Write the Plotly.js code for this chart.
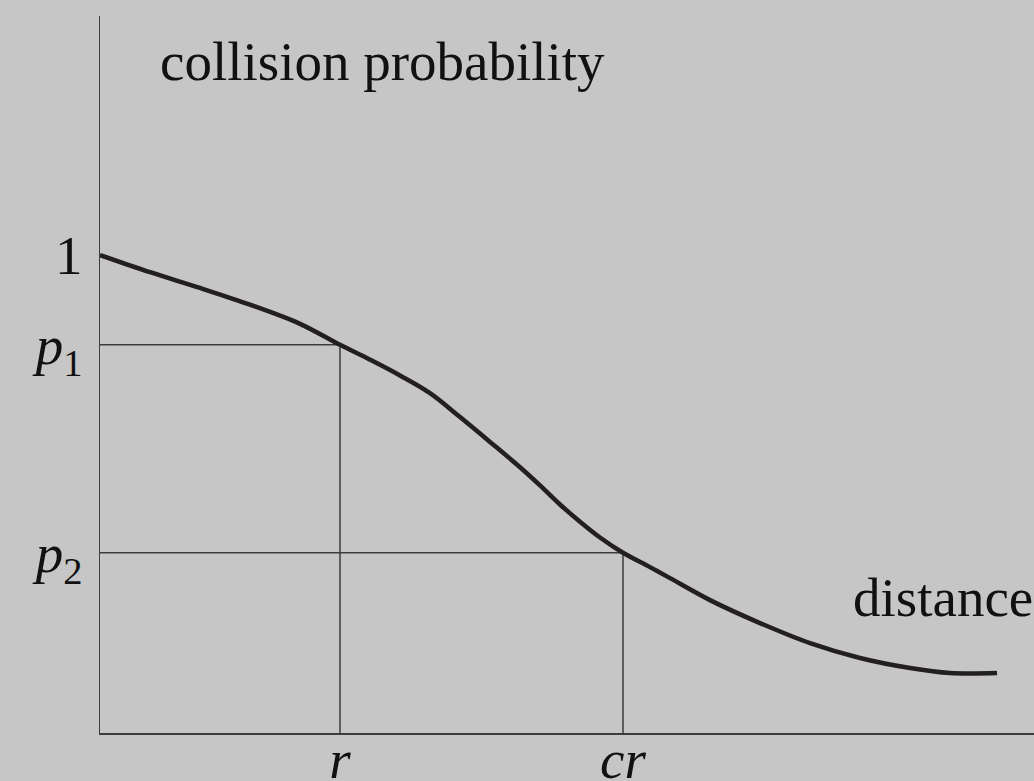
<!DOCTYPE html>
<html>
<head>
<meta charset="utf-8">
<script src="https://cdn.plot.ly/plotly-3.0.1.min.js"></script>
<style>html,body{margin:0;padding:0;background:#c5c6c5;}#chart{width:1034px;height:781px;}</style>
</head>
<body>
<div id="chart"></div>
<script>
// Curve: collision probability vs distance
const distance = [0, 0.5, 1.0, 1.5, 2.0, 2.4, 2.7, 3.0, 3.3, 3.6, 3.9, 4.2, 4.4, 4.6, 4.8, 5.0, 5.23, 5.5, 5.7, 6.1, 6.6, 7.1, 7.6, 8.1, 8.5, 8.97];
const probability = [1.0, 0.964, 0.931, 0.896, 0.856, 0.812, 0.781, 0.748, 0.711, 0.661, 0.609, 0.556, 0.518, 0.478, 0.442, 0.409, 0.377, 0.347, 0.324, 0.278, 0.230, 0.188, 0.157, 0.136, 0.1255, 0.1255];

// Marked points
const rVal = 2.4, crVal = 5.23;
const p1 = 0.812, p2 = 0.377;

const yTickVals = [1, p1, p2];
const yTickText = ['1', '<i>p</i><sub>1</sub>', '<i>p</i><sub>2</sub>'];
const xTickVals = [rVal, crVal];
const xTickText = ['<i>r</i>', '<i>cr</i>'];

const guideColor = '#3d3d3d';
const traces = [
  {x: [0, rVal, rVal], y: [p1, p1, 0], mode: 'lines', line: {color: guideColor, width: 1.5}, hoverinfo: 'skip'},
  {x: [0, crVal, crVal], y: [p2, p2, 0], mode: 'lines', line: {color: guideColor, width: 1.5}, hoverinfo: 'skip'},
  {x: distance, y: probability, mode: 'lines', line: {color: '#231f20', width: 4.5, shape: 'spline', smoothing: 1.0}, hoverinfo: 'skip'}
];

const font = {family: 'Liberation Serif, Times New Roman, serif', size: 55, color: '#111'};
const layout = {
  width: 1034, height: 781,
  margin: {l: 100, r: 0, t: 16, b: 48, pad: 0},
  paper_bgcolor: '#c5c6c5', plot_bgcolor: '#c5c6c5',
  showlegend: false,
  font: font,
  xaxis: {range: [0, 9.34], showgrid: false, zeroline: false, showline: true, linecolor: guideColor, linewidth: 1.5,
          tickvals: xTickVals, ticktext: xTickText, ticks: '', tickfont: font, ticklabelstandoff: -23, fixedrange: true},
  yaxis: {range: [0, 1.5], showgrid: false, zeroline: false, showline: true, linecolor: guideColor, linewidth: 1.5,
          tickvals: yTickVals, ticktext: yTickText, ticks: '', tickfont: font, ticklabelstandoff: 5, fixedrange: true},
  annotations: [
    {xref: 'paper', yref: 'paper', x: 58/934, y: (733-62)/717, text: 'collision probability', showarrow: false,
     xanchor: 'left', yanchor: 'middle', font: font},
    {xref: 'paper', yref: 'paper', x: 751/934, y: (733-597)/717, text: 'distance', showarrow: false,
     xanchor: 'left', yanchor: 'middle', font: font}
  ]
};
Plotly.newPlot('chart', traces, layout, {displayModeBar: false, staticPlot: true});
</script>
</body>
</html>
